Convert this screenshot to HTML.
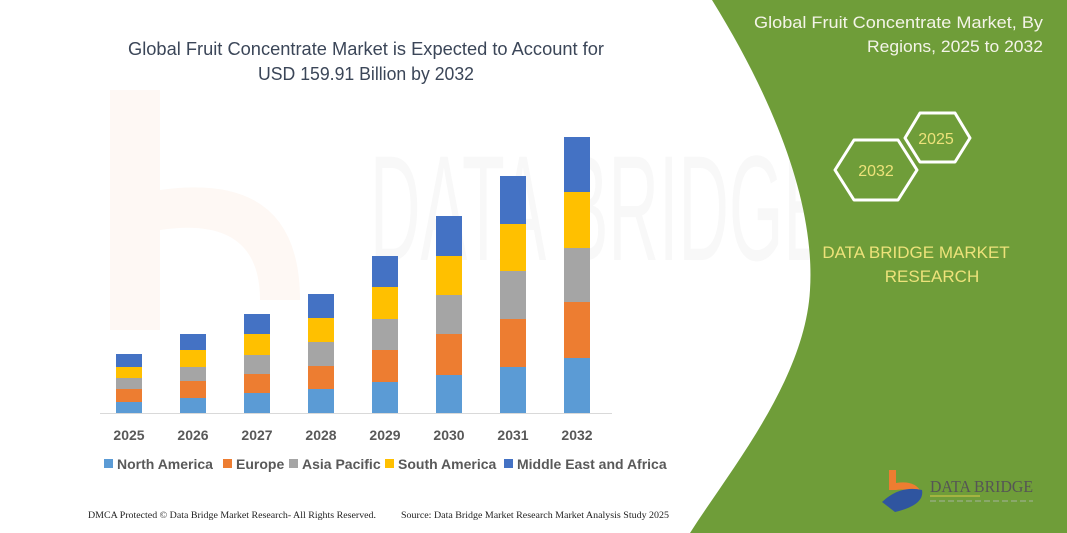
<!DOCTYPE html>
<html><head><meta charset="utf-8"><style>
html,body{margin:0;padding:0;background:#fff;}
svg{display:block;}
</style></head><body>
<svg width="1067" height="533" viewBox="0 0 1067 533" xmlns="http://www.w3.org/2000/svg">
<rect width="1067" height="533" fill="#fff"/>
<!-- faint watermark -->
<path d="M110 90 L160 90 L160 330 L110 330 Z" fill="#fef8f4"/>
<path d="M160 190 Q300 170 300 300 L260 300 Q260 215 160 230 Z" fill="#fef8f4"/>
<text x="370" y="260" font-family="Liberation Sans, sans-serif" font-size="150" fill="#f8f8f8" textLength="460" lengthAdjust="spacingAndGlyphs">DATA BRIDGE</text>
<!-- green panel -->
<path d="M712 0 C780 110 815 210 810 290 C805 380 730 470 690 533 L1067 533 L1067 0 Z" fill="#6f9d39"/>
<!-- title -->
<g font-family="Liberation Sans, sans-serif" fill="#3b4658" font-size="18" text-anchor="middle">
<text x="366" y="55" textLength="476" lengthAdjust="spacingAndGlyphs">Global Fruit Concentrate Market is Expected to Account for</text>
<text x="366" y="80" textLength="216" lengthAdjust="spacingAndGlyphs">USD 159.91 Billion by 2032</text>
</g>
<!-- axis -->
<line x1="100" y1="413.5" x2="612" y2="413.5" stroke="#d9d9d9" stroke-width="1"/>
<g id="bars"></g>
<g font-family="Liberation Sans, sans-serif" font-weight="bold" font-size="14" fill="#595959" text-anchor="middle">
<text x="129" y="440">2025</text><text x="193" y="440">2026</text><text x="257" y="440">2027</text><text x="321" y="440">2028</text>
<text x="385" y="440">2029</text><text x="449" y="440">2030</text><text x="513" y="440">2031</text><text x="577" y="440">2032</text>
</g>
<!-- legend -->
<g font-family="Liberation Sans, sans-serif" font-weight="bold" font-size="14" fill="#595959">
<rect x="104" y="459" width="9" height="9" fill="#5b9bd5"/><text x="117" y="469">North America</text>
<rect x="223" y="459" width="9" height="9" fill="#ed7d31"/><text x="236" y="469">Europe</text>
<rect x="289" y="459" width="9" height="9" fill="#a5a5a5"/><text x="302" y="469">Asia Pacific</text>
<rect x="385" y="459" width="9" height="9" fill="#ffc000"/><text x="398" y="469">South America</text>
<rect x="504" y="459" width="9" height="9" fill="#4472c4"/><text x="517" y="469">Middle East and Africa</text>
</g>
<!-- footer -->
<g font-family="Liberation Serif, serif" font-size="9.5" fill="#222">
<text x="88" y="518" textLength="288" lengthAdjust="spacingAndGlyphs">DMCA Protected © Data Bridge Market Research-  All Rights Reserved.</text>
<text x="357" y="518" dx="44" textLength="268" lengthAdjust="spacingAndGlyphs">Source: Data Bridge Market Research  Market Analysis Study 2025</text>
</g>
<!-- right panel text -->
<g font-family="Liberation Sans, sans-serif" fill="#f4f4e8" font-size="17" text-anchor="end">
<text x="1043" y="28" textLength="289" lengthAdjust="spacingAndGlyphs">Global Fruit Concentrate Market, By</text>
<text x="1043" y="52" textLength="176" lengthAdjust="spacingAndGlyphs">Regions, 2025 to 2032</text>
</g>
<polygon points="835,170 854,140 898,140 917,170 898,200 854,200" fill="none" stroke="#fff" stroke-width="3" stroke-linejoin="round"/>
<polygon points="905,138 920,113 955,113 970,138 955,162 920,162" fill="none" stroke="#fff" stroke-width="3" stroke-linejoin="round"/>
<g font-family="Liberation Sans, sans-serif" fill="#ede27a" font-size="16" text-anchor="middle">
<text x="876" y="176">2032</text>
<text x="936" y="144">2025</text>
<text x="916" y="258" font-size="17">DATA BRIDGE MARKET</text>
<text x="932" y="282" font-size="17">RESEARCH</text>
</g>
<!-- logo -->
<path d="M889 470 L896 470 L896 483 Q915 480 921 492 L914 494 Q908 488 896 490 L889 490 Z" fill="#ed7d31"/>
<path d="M882 502 Q900 485 922 490 Q925 505 895 512 Z" fill="#2f55a0"/>
<text x="930" y="492" font-family="Liberation Serif, serif" font-size="17" fill="#555" textLength="103" lengthAdjust="spacingAndGlyphs">DATA BRIDGE</text>
<line x1="930" y1="496" x2="980" y2="496" stroke="#d9c94a" stroke-width="1"/>
<line x1="930" y1="501" x2="1033" y2="501" stroke="#8aa86a" stroke-width="2" stroke-dasharray="6,3"/>
</svg>
<script>
var d=[[402,389,378,367,354],[398,381,367,350,334],[393,374,355,334,314],[389,366,342,318,294],[382,350,319,287,256],[375,334,295,256,216],[367,319,271,224,176],[358,302,248,192,137]];
var c=["#5b9bd5","#ed7d31","#a5a5a5","#ffc000","#4472c4"];
var g=document.getElementById("bars"),s="";
for(var i=0;i<8;i++){var x=116+i*64,prev=413;for(var j=0;j<5;j++){var t=d[i][j];s+='<rect x="'+x+'" y="'+t+'" width="26" height="'+(prev-t)+'" fill="'+c[j]+'"/>';prev=t;}}
g.innerHTML=s;
</script>
</body></html>
